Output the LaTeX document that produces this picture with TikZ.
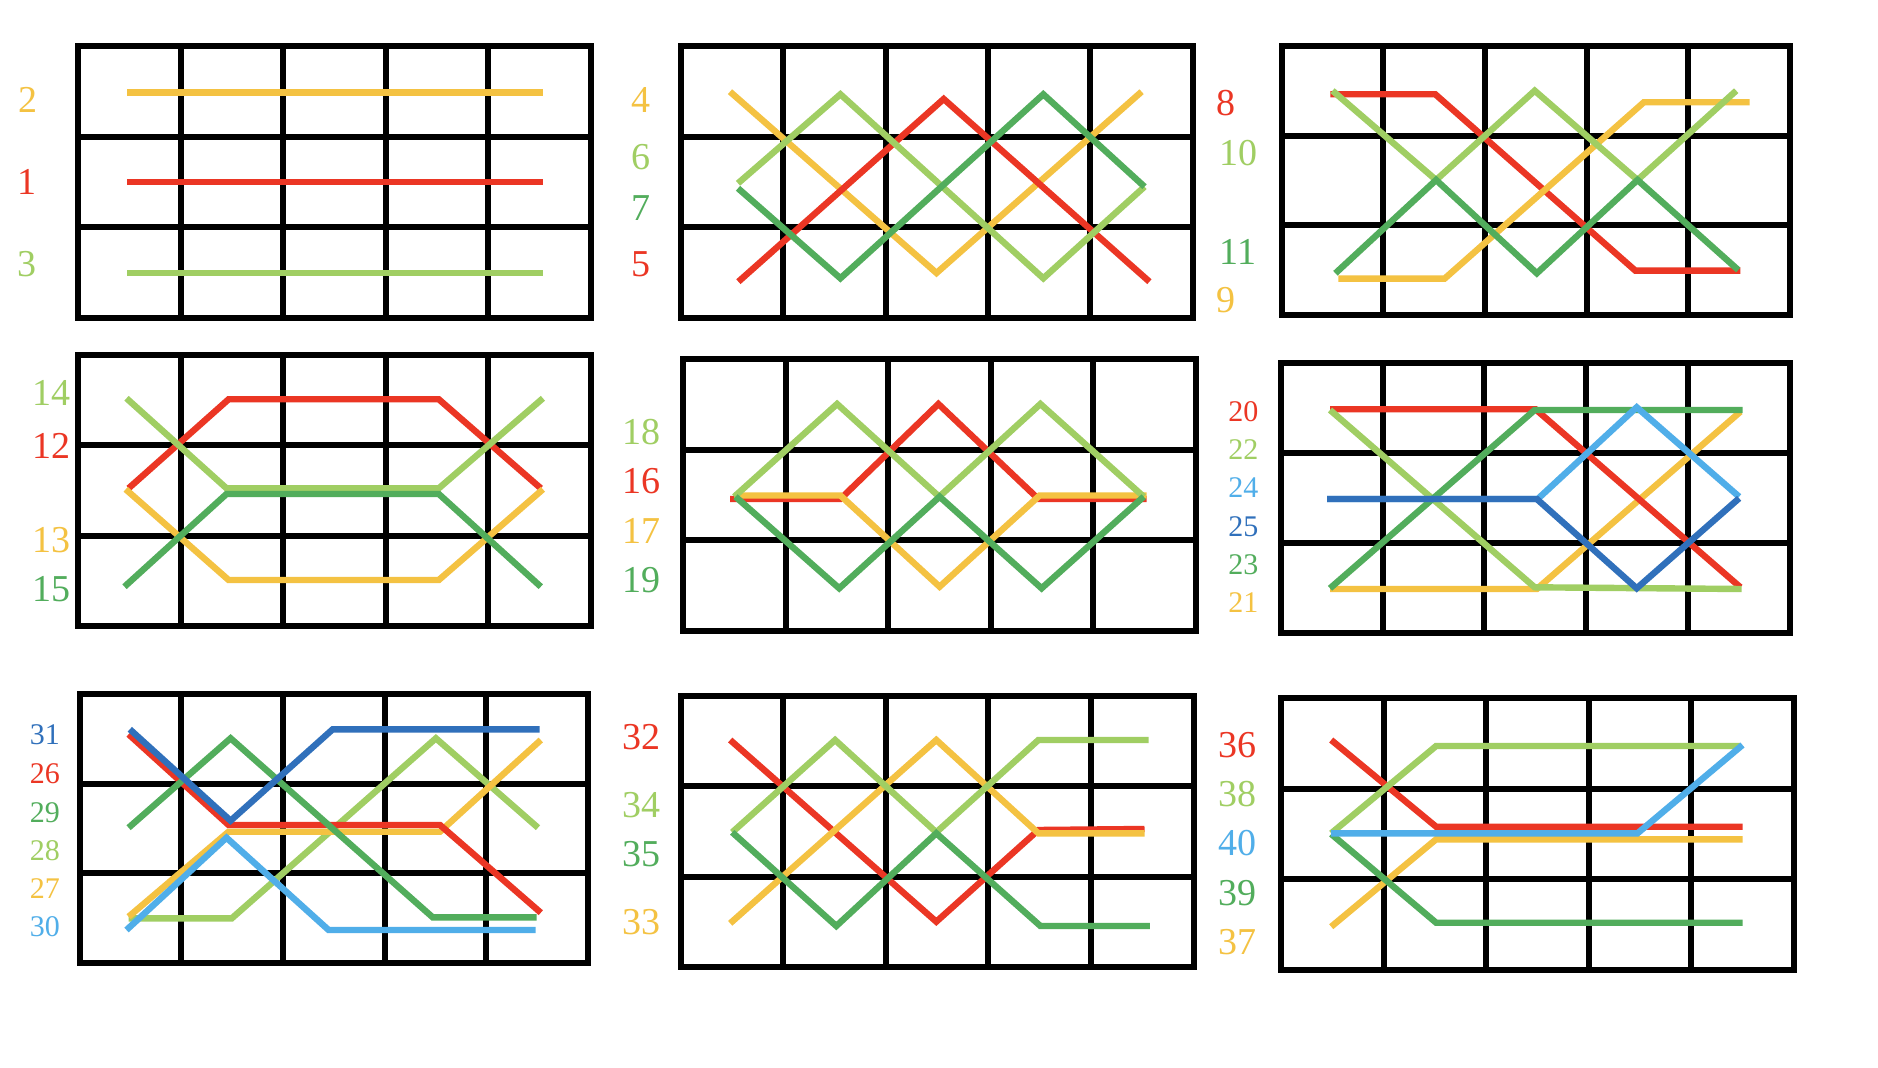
\documentclass[tikz,border=0pt]{standalone}
\usepackage{fontspec}
\setmainfont{Liberation Serif}
\definecolor{cy}{HTML}{F4C242}
\definecolor{cr}{HTML}{EB3624}
\definecolor{clg}{HTML}{A0CE63}
\definecolor{cdg}{HTML}{52AD5C}
\definecolor{clb}{HTML}{50AEE9}
\definecolor{cdb}{HTML}{3070BB}
\newcommand\biglab{\fontsize{19}{19}\selectfont}
\newcommand\smalllab{\fontsize{15}{15}\selectfont}
\newcommand\gridbox[4]{%
  \draw[gridline] (#1,#2) rectangle (#3,#4);
  \foreach \k in {1,2,3,4} \draw[gridline] ({#1+\k*(#3-#1)/5},#2) -- ({#1+\k*(#3-#1)/5},#4);
  \foreach \k in {1,2} \draw[gridline] (#1,{#2+\k*(#4-#2)/3}) -- (#3,{#2+\k*(#4-#2)/3});
}
\tikzset{
  gridline/.style={line width=3pt, black},
  wire/.style={line width=3.2pt},
  lab/.style={font=\biglab, inner sep=0pt, anchor=west},
  labc/.style={font=\biglab, inner sep=0pt, anchor=center},
  slab/.style={font=\smalllab, inner sep=0pt, anchor=west},
}
\begin{document}
\begin{tikzpicture}[x=0.5pt,y=-0.5pt]
\useasboundingbox (0,0) rectangle (1878,1068);
\fill[white] (0,0) rectangle (1878,1068);

% ---------- grids ----------
\gridbox{78}{46.3}{590.8}{317.8}
\gridbox{680.6}{46.3}{1192.9}{317.8}
\gridbox{1281.5}{45.8}{1790}{315.3}
\gridbox{78}{355}{590.8}{626.3}
\gridbox{682.9}{359.2}{1196.1}{630.8}
\gridbox{1280.8}{363}{1789.9}{633}
\gridbox{79.8}{693.8}{588}{963.3}
\gridbox{680.6}{695.8}{1193.7}{967}
\gridbox{1281.1}{698}{1793.9}{969.7}

% ---------- grid 1 ----------
\draw[wire,cy]  (127,92.5) -- (543,92.5);
\draw[wire,cr]  (127,182) -- (543,182);
\draw[wire,clg] (127,273) -- (543,273);

% ---------- grid 2 ----------
\draw[wire,cy]  (730,91.7) -- (936.5,273) -- (1141.6,91.7);
\draw[wire,cr]  (738.4,281.7) -- (943.7,99) -- (1149.4,281.7);
\draw[wire,clg] (738,183.3) -- (840.4,94.3) -- (1043.3,278.3) -- (1144.5,186.7);
\draw[wire,cdg] (738,188.3) -- (840.4,278.3) -- (1043.3,94.3) -- (1144.5,186.7);

% ---------- grid 3 ----------
\draw[wire,cr]  (1330.4,94.3) -- (1435.3,94.3) -- (1635.4,270.7) -- (1740.4,270.7);
\draw[wire,cy]  (1338.3,278.7) -- (1444.5,278.7) -- (1643.8,102.3) -- (1749.6,102.3);
\draw[wire,clg] (1332.5,90.7) -- (1436.1,180) -- (1534.7,90.7) -- (1637.5,180) -- (1736.2,90.7);
\draw[wire,cdg] (1335.4,273.3) -- (1436.1,180) -- (1536.8,273.3) -- (1637.5,180) -- (1738.2,270);

% ---------- grid 4 ----------
\draw[wire,cr]  (128.6,488.3) -- (228.6,399.3) -- (438.8,399.3) -- (540.8,488.3);
\draw[wire,cy]  (125.7,489.3) -- (228.6,580) -- (438.8,580) -- (542.9,489.3);
\draw[wire,clg] (126.5,398.3) -- (226.5,488.3) -- (438.8,488.3) -- (542.9,398.3);
\draw[wire,cdg] (124.5,586.7) -- (226.5,494) -- (438.8,494) -- (540.8,586.7);

% ---------- grid 5 ----------
\draw[wire,cr]  (730.2,499) -- (840.4,499) -- (938.4,404) -- (1038.4,499) -- (1146.5,499);
\draw[wire,cy]  (734.3,495.5) -- (840.4,495.5) -- (939.6,586.7) -- (1039.6,495.5) -- (1146.5,495.5);
\draw[wire,clg] (734.3,496.7) -- (837.1,404) -- (939.2,496.7) -- (1040.4,404) -- (1143.7,496.7);
\draw[wire,cdg] (735.5,496.7) -- (839.2,588.3) -- (939.6,496.7) -- (1041.6,588.3) -- (1143.7,496.7);

% ---------- grid 6 ----------
\draw[wire,cy]  (1330,589) -- (1536.8,589) -- (1740.4,411.7);
\draw[wire,cr]  (1330,409.3) -- (1535.6,409.3) -- (1740.4,587.3);
\draw[wire,clg] (1330,410) -- (1534.7,587.3) -- (1741.6,589);
\draw[wire,cdg] (1330,588.3) -- (1534.7,410) -- (1742.5,410);
\draw[wire,clb] (1327,499) -- (1537.7,499) -- (1636.7,407.3) -- (1739.1,496.7);
\draw[wire,cdb] (1327,499) -- (1536.8,499) -- (1636.7,588.3) -- (1739.1,498.3);

% ---------- grid 7 ----------
\draw[wire,clg] (128.6,918.3) -- (231.8,918.3) -- (435.9,738.3) -- (538,827.7);
\draw[wire,cy]  (128.6,916.7) -- (228.6,831.7) -- (440,831.7) -- (540.8,740);
\draw[wire,cr]  (128.6,734.3) -- (228.6,825) -- (440,825) -- (540.8,912.7);
\draw[wire,cdg] (128.6,827.7) -- (230.6,738.3) -- (432.7,917.3) -- (536.7,917.3);
\draw[wire,clb] (126.5,930) -- (226.5,837.7) -- (328.6,930) -- (535.5,930);
\draw[wire,cdb] (129.8,729.3) -- (230.6,820.7) -- (332.7,729.3) -- (539.6,729.3);

% ---------- grid 8 ----------
\draw[wire,cr]  (730.2,740) -- (936.3,921.7) -- (1038.4,830) -- (1144.5,829);
\draw[wire,cy]  (730.2,923.3) -- (936.3,740) -- (1038.4,833.3) -- (1144.5,833.3);
\draw[wire,clg] (732.2,832.3) -- (835.1,740) -- (936.3,832.3) -- (1038.4,740) -- (1148.6,740);
\draw[wire,cdg] (732.2,832.3) -- (836.3,926) -- (936.3,833.3) -- (1040.4,926) -- (1149.8,926);

% ---------- grid 9 ----------
\draw[wire,cr]  (1331.2,740) -- (1436.1,826.7) -- (1742.5,826.7);
\draw[wire,cy]  (1331.2,926.7) -- (1436.1,839.3) -- (1742.5,839.3);
\draw[wire,clg] (1331.2,833.3) -- (1436.1,746) -- (1740.4,746);
\draw[wire,cdg] (1331.2,834) -- (1436.1,922.7) -- (1742.5,922.7);
\draw[wire,clb] (1331.2,833.3) -- (1637.5,833.3) -- (1742.5,745);

% ---------- labels ----------
\node[labc,cy]  (l2) at (28,100) {2};
\node[labc,cr]  (l1) at (27.5,182) {1};
\node[labc,clg] (l3) at (27.3,264) {3};

\node[labc,cy]  (l4) at (641.4,100) {4};
\node[labc,clg] (l6) at (641.4,157) {6};
\node[labc,cdg] (l7) at (641,208) {7};
\node[labc,cr]  (l5) at (641.4,264) {5};

\node[labc,cr]  (l8)  at (1226,103.3) {8};
\node[lab,clg]  (l10) at (1219,153.3) {10};
\node[lab,cdg]  (l11) at (1219,251.7) {11};
\node[labc,cy]  (l9)  at (1225.7,300.3) {9};

\node[lab,clg] (l14) at (32.5,393.3) {14};
\node[lab,cr]  (l12) at (32.5,446) {12};
\node[lab,cy]  (l13) at (32.5,540) {13};
\node[lab,cdg] (l15) at (32.5,589.3) {15};

\node[lab,clg] (l18) at (622,431.7) {18};
\node[lab,cr]  (l16) at (622,480.7) {16};
\node[lab,cy]  (l17) at (622,530.7) {17};
\node[lab,cdg] (l19) at (622,580) {19};

\node[slab,cr]  (l20) at (1228,411.7) {20};
\node[slab,clg] (l22) at (1228,449.3) {22};
\node[slab,clb] (l24) at (1228,488) {24};
\node[slab,cdb] (l25) at (1228,526.3) {25};
\node[slab,cdg] (l23) at (1228,564.5) {23};
\node[slab,cy]  (l21) at (1228,603) {21};

\node[slab,cdb] (l31) at (29.4,735) {31};
\node[slab,cr]  (l26) at (29.4,773.3) {26};
\node[slab,cdg] (l29) at (29.4,812.7) {29};
\node[slab,clg] (l28) at (29.4,850.7) {28};
\node[slab,cy]  (l27) at (29.4,888.7) {27};
\node[slab,clb] (l30) at (29.4,926.7) {30};

\node[lab,cr]  (l32) at (622,736.7) {32};
\node[lab,clg] (l34) at (622,805) {34};
\node[lab,cdg] (l35) at (622,854) {35};
\node[lab,cy]  (l33) at (622,921.7) {33};

\node[lab,cr]  (l36) at (1218,745) {36};
\node[lab,clg] (l38) at (1218,794) {38};
\node[lab,clb] (l40) at (1218,843.3) {40};
\node[lab,cdg] (l39) at (1218,892.7) {39};
\node[lab,cy]  (l37) at (1218,941.7) {37};
\end{tikzpicture}
\end{document}
